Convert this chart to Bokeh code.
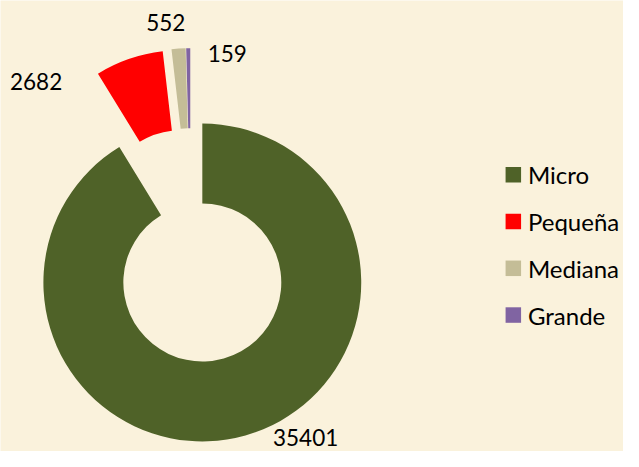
import math
from bokeh.plotting import figure
from bokeh.models import ColumnDataSource, Range1d
from bokeh.core.properties import value
from bokeh.embed import file_html
from bokeh.resources import INLINE

# ---- data ----
categories = ["Micro", "Pequeña", "Mediana", "Grande"]
counts = [35401, 2682, 552, 159]
colors = ["#4F6228", "#FF0000", "#C4BD97", "#8064A2"]

# ---- style / layout ----
W, H = 623, 451
BG = "#FAF2DC"
R_OUT, R_IN = 163, 81
explode_dist = [0, 79, 79, 79]
explode_dir = [0, 343.9, 350.6, 351.0]      # degrees clockwise from 12 o'clock
label_dist = [192, 199, 193, 164]
label_dir = [146.5, 311.7, 352.7, 13.4]
FONT = "Lato"

total = sum(counts)
xs, ys, starts, ends, lx, ly = [], [], [], [], [], []
acc = 0.0
for i, c in enumerate(counts):
    a0 = acc / total * 360.0
    acc += c
    a1 = acc / total * 360.0
    d = math.radians(explode_dir[i])
    cx = explode_dist[i] * math.sin(d)
    cy = explode_dist[i] * math.cos(d)
    xs.append(cx)
    ys.append(cy)
    starts.append(math.radians(90 - a0))
    ends.append(math.radians(90 - a1))
    ld = math.radians(label_dir[i])
    lx.append(cx + label_dist[i] * math.sin(ld))
    ly.append(cy + label_dist[i] * math.cos(ld))

src = ColumnDataSource(dict(x=xs, y=ys, start=starts, end=ends, color=colors,
                            cat=categories, txt=[str(c) for c in counts],
                            lx=lx, ly=ly))

p = figure(width=W, height=H, output_backend="svg", toolbar_location=None,
           x_range=Range1d(-207, 432), y_range=Range1d(-175, 292),
           x_axis_location=None, y_axis_location=None, min_border=0)
p.grid.visible = False
p.outline_line_color = None
p.background_fill_color = BG
p.border_fill_color = BG

p.annular_wedge(x="x", y="y", inner_radius=R_IN, outer_radius=R_OUT,
                start_angle="start", end_angle="end", direction="clock",
                fill_color="color", line_color=None, source=src)

p.text(x="lx", y="ly", text="txt", source=src, text_align="center",
       text_baseline="middle", text_font=value(FONT), text_font_size="22.5px",
       text_color="#000000")

# legend drawn from the category lists
leg_x, leg_y0, leg_step = 319, 111.5, 48.4
leg_src = ColumnDataSource(dict(
    x=[leg_x] * len(categories),
    y=[leg_y0 - i * leg_step for i in range(len(categories))],
    tx=[leg_x + 15] * len(categories),
    color=colors, cat=categories))
p.scatter(x="x", y="y", marker="square", size=15.5, fill_color="color",
          line_color=None, source=leg_src)
p.text(x="tx", y="y", text="cat", source=leg_src, text_align="left",
       text_baseline="middle", text_font=value(FONT), text_font_size="24px",
       text_color="#000000")

open("out.html", "w").write(file_html(p, INLINE))
